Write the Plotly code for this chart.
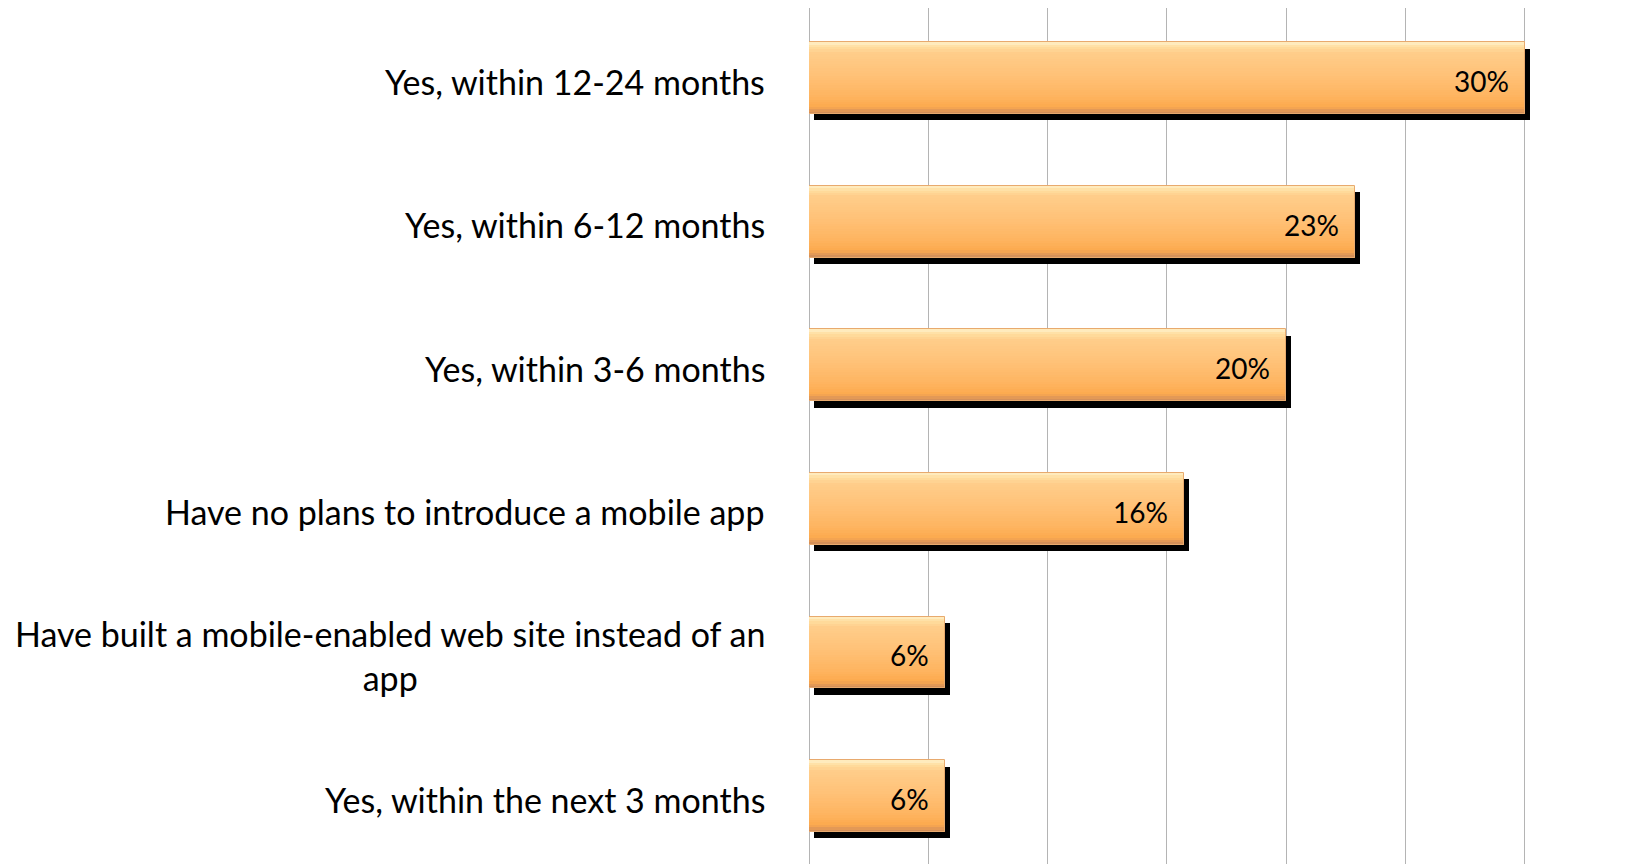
import plotly.graph_objects as go

categories = [
    "Yes, within 12-24 months",
    "Yes, within 6-12 months",
    "Yes, within 3-6 months",
    "Have no plans to introduce a mobile app",
    "Have built a mobile-enabled web site instead of an<br>app",
    "Yes, within the next 3 months",
]
values = [30.0, 22.9, 20.0, 15.7, 5.7, 5.7]
labels = ["30%", "23%", "20%", "16%", "6%", "6%"]

n = len(categories)
ypos = [n - 1 - i for i in range(n)]  # top to bottom

W, H = 1637, 864
left, top = 809, 8
px_per_x = 119.3 / 5
px_per_y = 143.6
bar_w = 0.5

x_max = (W - left) / px_per_x
y_top = 5 + (78 - top) / px_per_y
y_bot = 0 - (H - 796) / px_per_y

fig = go.Figure()

# shadow
sx = 5 / px_per_x
sy = 6.5 / px_per_y
fig.add_trace(go.Bar(
    y=[p - sy for p in ypos], x=values, base=[sx] * n, orientation="h",
    width=bar_w, marker=dict(color="black", line=dict(width=0)),
    hoverinfo="skip", showlegend=False,
))

# gradient bar built from horizontal strips
stops = [
    (1.00, (255, 240, 200)),
    (0.94, (255, 222, 160)),
    (0.85, (255, 205, 138)),
    (0.55, (255, 194, 120)),
    (0.25, (254, 180, 96)),
    (0.10, (252, 170, 78)),
    (0.04, (222, 150, 88)),
    (0.00, (205, 140, 90)),
]
def lerp(c1, c2, t):
    return tuple(int(round(a + (b - a) * t)) for a, b in zip(c1, c2))

nstrips = 30
for k in range(nstrips):
    f0 = k / nstrips
    f1 = (k + 1) / nstrips
    fm = (f0 + f1) / 2
    col = stops[-1][1]
    for j in range(len(stops) - 1):
        hi, chi = stops[j]
        lo, clo = stops[j + 1]
        if lo <= fm <= hi:
            col = lerp(clo, chi, (fm - lo) / (hi - lo))
            break
    h = bar_w / nstrips
    fig.add_trace(go.Bar(
        y=[p - bar_w / 2 + fm * bar_w for p in ypos], x=values,
        orientation="h", width=h * 1.05,
        marker=dict(color="rgb(%d,%d,%d)" % col, line=dict(width=0)),
        hoverinfo="skip", showlegend=False,
    ))

# outline
fig.add_trace(go.Bar(
    y=ypos, x=values, orientation="h", width=bar_w,
    marker=dict(color="rgba(0,0,0,0)", line=dict(color="rgb(232,170,110)", width=1)),
    hoverinfo="skip", showlegend=False,
))

font_family = "Lato, Open Sans, sans-serif"
annotations = []
for p, v, lab, cat in zip(ypos, values, labels, categories):
    annotations.append(dict(
        x=v, y=p, xref="x", yref="y", text=lab, showarrow=False,
        xanchor="right", yanchor="middle", xshift=-14, yshift=-3,
        font=dict(family=font_family, size=28, color="black"),
    ))
    annotations.append(dict(
        x=0, y=p, xref="x", yref="y", text=cat, showarrow=False,
        xanchor="right", yanchor="middle", xshift=-42, yshift=-3, align="center",
        font=dict(family=font_family, size=34, color="black"),
    ))

fig.update_layout(
    width=W, height=H,
    margin=dict(l=left, r=0, t=top, b=0),
    paper_bgcolor="white", plot_bgcolor="white",
    barmode="overlay", bargap=0,
    annotations=annotations,
    xaxis=dict(range=[0, x_max], dtick=5, showgrid=True, gridcolor="#b4b4b4",
               gridwidth=1, showticklabels=False, zeroline=True,
               zerolinecolor="#b4b4b4", zerolinewidth=1, showline=False),
    yaxis=dict(range=[y_bot, y_top], showgrid=False, showticklabels=False,
               zeroline=False, showline=False),
)

fig.write_html("out.html")
